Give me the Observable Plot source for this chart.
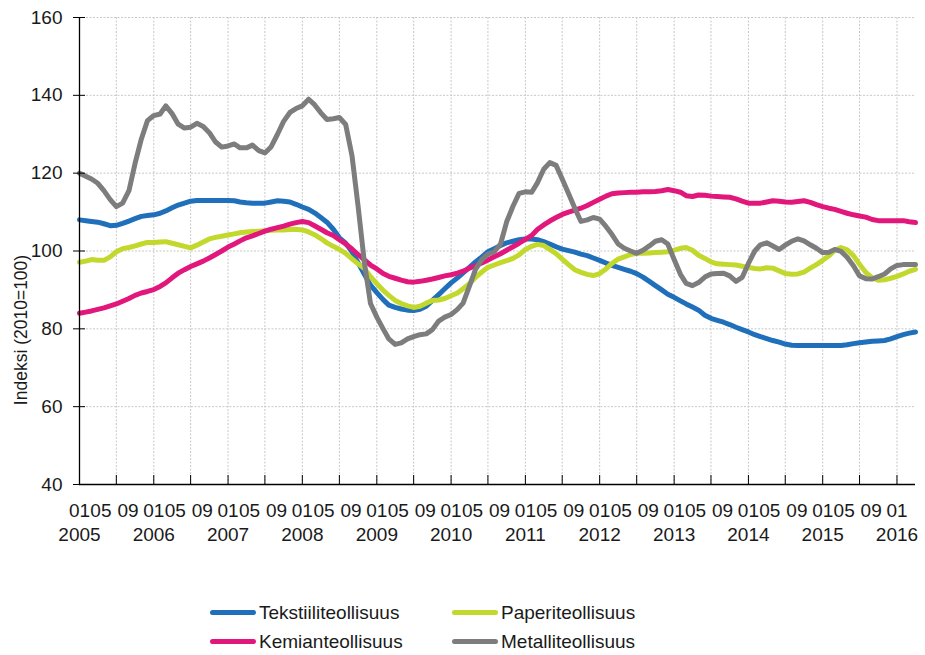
<!DOCTYPE html>
<html>
<head>
<meta charset="utf-8">
<script src="https://cdn.jsdelivr.net/npm/d3@7"></script>
<script src="https://cdn.jsdelivr.net/npm/@observablehq/plot@0.6"></script>
<style>
  html, body { margin: 0; padding: 0; background: #fff; }
  body { width: 925px; height: 655px; overflow: hidden; font-family: "Liberation Sans", Arial, sans-serif; }
  #legend { display: grid; grid-template-columns: 242px 240px; margin-left: 210px; padding-top: 38px; row-gap: 0; }
  .item { display: flex; align-items: center; height: 29px; font-size: 19px; color: #1a1a1a; }
  .sw { width: 46px; height: 5px; border-radius: 3px; margin-right: 3px; }
</style>
</head>
<body>
<div id="chart"></div>
<div id="legend"></div>
<script>
// Categories: months 2005-01 .. 2016-04
const firstMonth = "2005-01";
const lastMonth = "2016-04";
const seriesNames = ["Tekstiiliteollisuus", "Paperiteollisuus", "Kemianteollisuus", "Metalliteollisuus"];
const seriesColors = ["#1f6fba", "#c3d82c", "#e2177c", "#7d7d7d"];
const monthLabels = ["01", "05", "09"];
const yearLabels = [2005, 2006, 2007, 2008, 2009, 2010, 2011, 2012, 2013, 2014, 2015, 2016];
const yTicks = [40, 60, 80, 100, 120, 140, 160];

const tekstiili = [
  108.0,107.8,107.6,107.4,107.0,106.5,106.6,107.1,107.7,108.3,108.9,109.1,
  109.3,109.7,110.3,111.1,111.8,112.3,112.8,113.0,113.0,113.0,113.0,113.0,
  113.0,112.9,112.6,112.4,112.3,112.3,112.3,112.6,112.9,112.8,112.6,112.0,
  111.3,110.7,109.8,108.6,107.4,105.6,103.4,102.0,99.8,97.0,94.0,91.2,
  89.3,87.5,86.1,85.5,85.1,84.8,84.7,85.0,85.8,87.3,88.8,90.3,
  91.8,93.1,94.4,95.8,97.2,98.5,99.8,100.6,101.4,102.1,102.5,102.9,
  103.1,103.1,102.9,102.4,101.8,101.1,100.5,100.1,99.7,99.2,98.8,98.2,
  97.6,96.9,96.3,95.8,95.3,94.8,94.2,93.3,92.2,91.1,90.0,88.9,
  88.1,87.2,86.4,85.6,84.8,83.5,82.7,82.2,81.7,81.1,80.4,79.8,
  79.2,78.5,78.0,77.5,77.0,76.6,76.1,75.8,75.7,75.7,75.7,75.7,
  75.7,75.7,75.7,75.7,75.9,76.2,76.4,76.6,76.8,76.9,77.0,77.4,
  78.0,78.5,78.9,79.2
];
const paperi = [
  97.1,97.4,97.8,97.6,97.6,98.5,99.8,100.6,100.9,101.3,101.8,102.2,
  102.2,102.3,102.4,102.0,101.6,101.2,100.8,101.5,102.3,103.1,103.5,103.8,
  104.1,104.4,104.7,104.9,105.0,105.1,105.2,105.3,105.4,105.4,105.5,105.6,
  105.4,104.9,104.2,103.2,102.1,101.2,100.4,99.4,98.0,96.7,95.5,93.4,
  91.6,89.9,88.6,87.3,86.5,85.9,85.5,85.8,86.6,87.3,87.4,87.8,
  88.5,89.2,90.3,91.6,93.2,94.6,95.8,96.4,97.0,97.5,98.1,99.0,
  100.4,101.2,101.7,101.4,100.4,99.3,97.9,96.5,95.2,94.5,94.0,93.7,
  94.2,95.4,96.8,97.9,98.5,99.1,99.4,99.4,99.5,99.6,99.7,99.8,
  100.2,100.7,100.9,100.2,98.9,98.1,97.2,96.7,96.6,96.5,96.4,96.1,
  95.8,95.5,95.4,95.7,95.6,94.9,94.2,94.0,94.1,94.6,95.6,96.5,
  97.6,98.8,100.2,100.9,100.3,98.8,96.6,94.5,93.1,92.5,92.6,93.0,
  93.5,94.1,94.8,95.3
];
const kemian = [
  84.0,84.3,84.6,85.0,85.4,85.9,86.4,87.1,87.8,88.6,89.2,89.6,
  90.1,90.9,91.8,93.1,94.3,95.2,96.0,96.7,97.4,98.2,99.1,100.0,
  101.0,101.8,102.6,103.4,103.9,104.5,105.1,105.6,106.0,106.4,106.9,107.3,
  107.6,107.3,106.5,105.6,104.7,104.0,102.9,101.8,100.5,99.1,97.7,96.4,
  95.4,94.2,93.5,93.0,92.5,92.1,92.0,92.2,92.5,92.8,93.2,93.6,
  93.9,94.3,94.8,95.6,96.2,96.9,97.7,98.5,99.3,100.2,101.1,102.0,
  103.0,104.0,105.5,106.7,107.7,108.6,109.4,110.0,110.5,111.0,111.7,112.5,
  113.3,114.1,114.7,114.9,115.0,115.1,115.1,115.2,115.2,115.3,115.5,115.8,
  115.5,115.1,114.2,114.0,114.4,114.3,114.1,114.0,113.9,113.8,113.4,112.8,
  112.3,112.3,112.3,112.6,112.9,112.8,112.6,112.5,112.7,112.9,112.5,111.9,
  111.4,111.0,110.7,110.2,109.7,109.3,109.0,108.7,108.1,107.8,107.8,107.8,
  107.8,107.8,107.5,107.3
];
const metalli = [
  120.0,119.2,118.5,117.4,115.5,113.2,111.4,112.3,115.5,122.5,128.8,133.5,
  134.8,135.2,137.3,135.3,132.6,131.6,131.8,132.8,132.0,130.4,128.0,126.7,
  127.0,127.5,126.5,126.5,127.2,125.8,125.2,126.8,130.0,133.3,135.6,136.6,
  137.3,139.0,137.6,135.5,133.8,134.0,134.3,132.5,124.5,111.5,97.0,86.5,
  83.0,80.0,77.4,76.0,76.4,77.4,78.0,78.5,78.7,79.8,82.0,83.0,
  83.7,85.0,86.6,91.0,95.3,97.8,99.2,99.8,101.8,107.5,111.5,114.8,
  115.2,115.1,117.5,121.0,122.7,122.0,118.5,114.8,111.0,107.6,108.0,108.6,
  108.2,106.3,104.3,101.8,100.7,100.0,99.4,100.2,101.3,102.5,102.9,101.8,
  97.8,94.0,91.7,91.1,91.9,93.3,94.1,94.2,94.3,93.6,92.2,93.2,
  96.8,100.0,101.6,102.1,101.3,100.4,101.5,102.5,103.1,102.6,101.6,100.7,
  99.6,99.7,100.4,99.9,98.4,96.2,93.6,92.9,92.8,93.4,94.1,95.4,
  96.3,96.5,96.5,96.5
];

const parseM = d3.utcParse("%Y-%m");
const months = d3.utcMonth.range(parseM(firstMonth), d3.utcMonth.offset(parseM(lastMonth), 1));
const seriesValues = [tekstiili, paperi, kemian, metalli];
const rows = [];
seriesNames.forEach((name, s) => {
  seriesValues[s].forEach((v, i) => rows.push({date: months[i], value: v, series: name}));
});
const drawOrder = ["Tekstiiliteollisuus", "Paperiteollisuus", "Kemianteollisuus", "Metalliteollisuus"];

const tickDates = d3.utcMonth.every(6).range(parseM(firstMonth), d3.utcMonth.offset(parseM(lastMonth), 1));
const labelDatesBy = {};
monthLabels.forEach(m => {
  labelDatesBy[m] = yearLabels.map(y => parseM(`${y}-${m}`)).filter(d => d <= parseM(lastMonth));
});
const yearDates = yearLabels.map(y => parseM(`${y}-01`));

const fmtM = d3.utcFormat("%m");
const fmtY = d3.utcFormat("%Y");
const labelShift = {"01": 0, "05": -3, "09": -1};

const plot = Plot.plot({
  width: 925,
  height: 560,
  marginLeft: 79,
  marginRight: 10,
  marginTop: 17,
  marginBottom: 76,
  style: {fontFamily: "'Liberation Sans', Arial, sans-serif", fontSize: "19px", color: "#1a1a1a", background: "#fff"},
  x: {type: "utc", domain: [months[0], months[months.length - 1]]},
  y: {domain: [40, 160]},
  marks: [
    Plot.gridY(yTicks.slice(1), {stroke: "#c8c8c8", strokeOpacity: 1, strokeDasharray: "2,1.5"}),
    Plot.gridX(tickDates.slice(1), {stroke: "#c8c8c8", strokeOpacity: 1, strokeDasharray: "2,1.5"}),
    ...drawOrder.map(name => Plot.line(rows.filter(r => r.series === name), {
      x: "date", y: "value", stroke: seriesColors[seriesNames.indexOf(name)],
      strokeWidth: 5, strokeLinejoin: "round", strokeLinecap: "round"
    })),
    Plot.ruleY([40], {stroke: "#000", strokeWidth: 1.3}),
    Plot.ruleX([months[0]], {stroke: "#000", strokeWidth: 1.3}),
    Plot.axisY({ticks: yTicks, tickSize: 6, tickPadding: 11, label: null, fontSize: 19, stroke: "#000"}),
    Plot.axisY({ticks: yTicks, tickSize: -6, tickFormat: () => "", label: null, stroke: "#000"}),
    Plot.axisX({ticks: tickDates, tickSize: -9, tickFormat: () => "", label: null, stroke: "#000"}),
    ...monthLabels.map(m => Plot.axisX({ticks: labelDatesBy[m], tickSize: 0, tickPadding: 19, dx: labelShift[m], tickFormat: d => fmtM(d), label: null, fontSize: 19})),
    Plot.axisX({ticks: yearDates, tickSize: 0, tickPadding: 43, tickFormat: d => fmtY(d), label: null, fontSize: 19})
  ]
});

d3.select(plot).append("text")
  .attr("transform", "translate(22,330) rotate(-90)")
  .attr("text-anchor", "middle")
  .attr("dominant-baseline", "middle")
  .attr("font-size", 17.5)
  .attr("fill", "#1a1a1a")
  .text("Indeksi (2010=100)");

document.getElementById("chart").appendChild(plot);

const legend = document.getElementById("legend");
seriesNames.forEach(name => {
  const item = document.createElement("div");
  item.className = "item";
  const sw = document.createElement("span");
  sw.className = "sw";
  sw.style.background = seriesColors[seriesNames.indexOf(name)];
  const t = document.createElement("span");
  t.textContent = name;
  item.appendChild(sw);
  item.appendChild(t);
  legend.appendChild(item);
});
</script>
</body>
</html>
